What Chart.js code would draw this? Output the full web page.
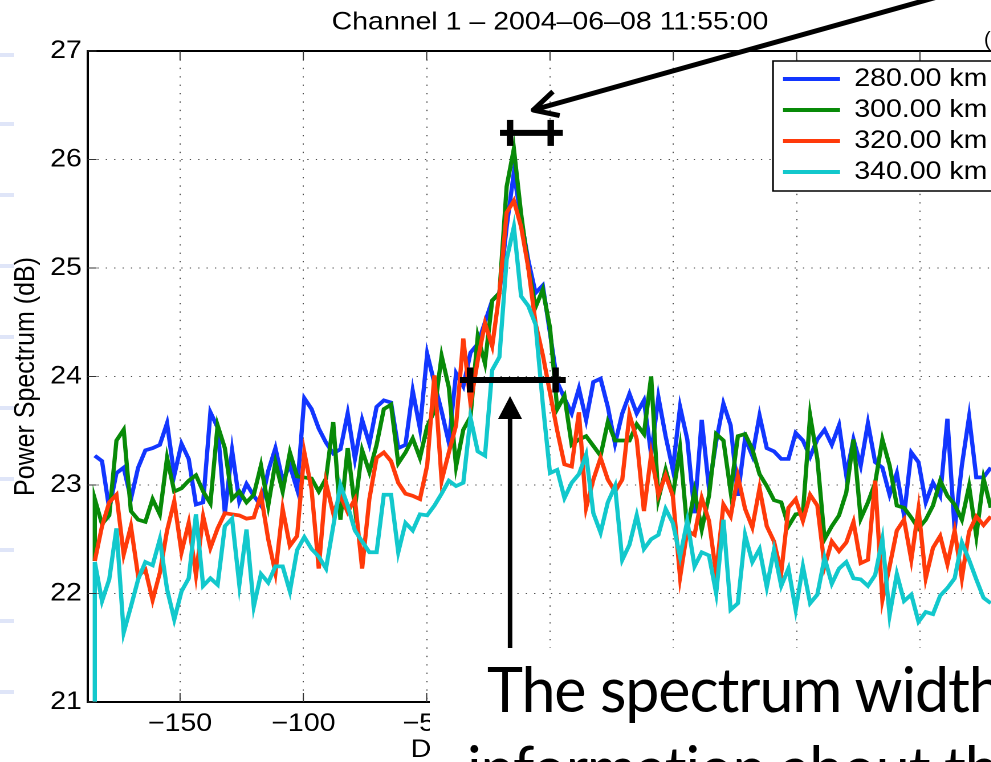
<!DOCTYPE html>
<html>
<head>
<meta charset="utf-8">
<script src="https://cdn.jsdelivr.net/npm/chart.js@4.4.1/dist/chart.umd.min.js"></script>
<style>
  html, body { margin: 0; padding: 0; background: #fff; overflow: hidden; width: 991px; height: 762px; }
  /* the figure sits on the slide stretched sideways, so the chart is drawn narrow and widened */
  #stage { position: absolute; left: 0; top: 0; width: 957px; height: 780px; transform: scaleX(1.14); transform-origin: 0 0; }
  #slideText { position: absolute; left: 430px; top: 648px; width: 700px; height: 140px; background: #fff;
               font-family: Lato, "Open Sans", sans-serif; font-size: 61px; line-height: 61px; letter-spacing: -1.1px;
               color: #000; white-space: nowrap; }
  #slideText div { position: absolute; }
  #corner { position: absolute; left: 984px; top: 28px; font: 20px "Liberation Sans", Arial, sans-serif; color: #000; }
  .bullet { position: absolute; left: 0; width: 14px; height: 4px; background: #dfe5f8; }
</style>
</head>
<body>
<div id="stage"><canvas id="chart"></canvas></div>
<div id="corner">(</div>
<div id="slideText">
  <div style="left:57px; top:10px;">The spectrum width</div>
  <div style="left:37px; top:89px;">information about the</div>
</div>
<script>
// power spectrum (dB) per doppler bin, bins 1..125 of 128 (the last ones run off the slide)
const km280 = [23.27,23.22,22.78,23.11,23.16,22.87,23.16,23.32,23.34,23.37,23.57,23.09,23.38,23.24,22.82,22.84,23.67,23.53,22.74,23.32,22.85,23.01,22.90,22.81,23.13,
  23.34,23.04,23.18,22.96,23.80,23.70,23.52,23.39,23.29,23.33,23.66,23.24,23.60,23.38,23.72,23.78,23.76,23.34,23.37,23.87,23.52,24.21,23.94,23.68,23.39,
  24.03,23.91,24.22,24.30,24.50,24.70,24.77,25.38,25.88,25.45,25.07,24.77,24.84,24.40,23.95,23.80,23.66,23.89,23.60,23.95,23.98,23.72,23.38,23.66,23.84,
  23.66,23.78,23.28,23.81,23.45,23.14,23.72,23.42,22.74,23.60,22.97,23.40,23.75,23.55,22.90,23.43,23.27,23.64,23.34,23.31,23.24,23.24,23.48,23.41,23.26,
  23.42,23.51,23.37,23.55,23.09,23.42,23.18,23.57,23.21,23.16,22.91,23.11,22.72,23.30,23.21,22.84,23.02,22.90,23.61,22.59,23.18,23.63,23.07,23.07,23.16];
const km300 = [22.87,22.64,22.72,23.41,23.51,22.76,22.68,22.66,22.87,22.73,23.25,22.94,22.97,23.04,23.09,22.94,22.83,23.55,23.34,22.87,22.94,22.84,22.91,23.18,22.81,
  23.21,22.94,23.30,23.08,23.07,23.06,22.94,23.06,23.58,22.68,23.34,22.79,23.32,23.12,23.37,23.70,23.74,23.20,23.30,23.43,23.25,23.54,23.68,24.19,23.90,
  23.17,23.51,23.63,24.37,24.12,24.70,24.77,25.75,26.10,25.50,25.00,24.64,24.80,24.45,23.70,23.82,23.37,23.42,23.45,23.36,23.27,23.58,23.41,23.41,23.41,
  23.56,23.47,24.00,22.87,23.14,22.90,23.34,22.59,22.94,22.59,22.90,23.47,23.41,22.94,23.45,23.47,23.33,23.10,22.99,22.86,22.84,22.62,22.73,22.74,23.64,
  23.24,22.50,22.62,22.72,22.93,23.42,22.69,22.84,23.02,23.42,23.18,22.81,22.79,22.70,22.60,22.68,22.81,23.04,22.90,22.82,22.68,22.99,22.53,23.06,22.79];
const km320 = [22.30,22.62,22.84,22.91,22.36,22.62,22.16,22.22,21.94,22.19,22.58,22.85,22.38,22.65,22.17,22.71,22.42,22.60,22.74,22.73,22.72,22.69,22.70,22.91,22.50,
  22.19,22.78,22.44,22.53,23.30,22.96,22.23,23.02,22.74,22.90,22.75,22.87,22.23,22.87,23.25,23.30,23.22,23.02,22.92,22.90,22.87,23.18,24.01,23.04,23.30,
  23.55,24.35,23.75,24.15,24.49,24.28,24.77,25.51,25.62,25.38,25.00,24.49,24.20,23.85,23.50,23.19,23.17,23.67,22.79,23.05,23.25,23.05,22.94,23.05,23.65,
  23.42,22.76,23.28,22.91,23.09,22.90,22.15,22.58,22.54,22.88,22.67,22.18,22.82,22.71,23.08,22.78,22.61,22.97,22.62,22.48,22.19,22.79,22.87,22.67,22.91,
  22.81,22.25,22.48,22.39,22.47,22.66,22.28,22.31,23.04,21.94,22.25,22.58,22.68,22.31,22.78,22.14,22.42,22.53,22.27,22.58,22.14,22.57,22.71,22.63,22.71];
const km340 = [22.29,21.93,22.13,22.60,21.64,21.88,22.13,22.29,22.26,22.50,22.04,21.76,22.02,22.14,22.73,22.07,22.14,22.08,22.62,22.69,22.08,22.59,21.88,22.18,22.10,
  22.25,22.25,22.02,22.40,22.52,22.41,22.34,22.23,22.62,23.00,22.81,22.58,22.48,22.38,22.38,22.91,22.91,22.38,22.65,22.58,22.73,22.72,22.81,22.92,23.04,
  22.99,23.02,23.62,23.31,23.27,24.06,24.18,25.08,25.38,24.74,24.65,24.48,23.75,23.11,23.14,22.88,23.02,23.10,23.28,22.74,22.56,22.84,22.99,22.31,22.45,
  22.72,22.41,22.50,22.54,22.78,22.65,22.34,22.67,22.25,22.38,22.35,22.00,22.68,21.85,21.91,22.54,22.29,22.41,22.06,22.40,22.07,22.23,21.85,22.25,21.91,
  21.99,22.33,22.09,22.23,22.29,22.14,22.13,22.07,22.17,22.50,21.80,22.18,21.93,21.99,21.74,21.83,21.81,21.98,22.05,22.14,22.47,22.31,22.13,21.96,21.91];
// each trace starts with a drop at the first bin (340 km falls off the axis)
const firstBinDrop = [23.27, 22.30, 22.30, 20.0];

const rangeLabels = ['280.00 km', '300.00 km', '320.00 km', '340.00 km'];
const rangeColors = ['#1236ff', '#088a08', '#ff3a0a', '#12c8cc'];
const xTickValues = [-150, -100, -50, 0, 50, 100, 150];

const binStart = -187.5, binStep = 375 / 128;
const dopplerBins = km280.map((_, i) => binStart + (i + 1) * binStep);

// annotations the slide draws over the figure (data units)
const peakWidthBar = { from: -20.3, to: 5.2, ticks: [-16.2, 0.3], at: 26.245 };
const baseWidthBar = { from: -36.5, to: 6.4, ticks: [-32.4, 2.3], at: 23.968 };
const upArrow = { x: -16.2, from: 21.49, tip: 23.82 };
const calloutArrow = { fromX: 182.5, fromY: 27.66, toX: -6.8, toY: 26.456 };

// faint bullet marks of the slide along the left edge
const bulletRows = [55, 124, 195, 266, 337, 408, 479, 550, 621, 692];
bulletRows.forEach(y => {
  const d = document.createElement('div');
  d.className = 'bullet';
  d.style.top = (y - 2) + 'px';
  document.body.appendChild(d);
});

const S = 1.14;   // horizontal stretch of the slide
Chart.defaults.font.family = '"Liberation Sans", Arial, Helvetica, sans-serif';
Chart.defaults.font.size = 25;
Chart.defaults.color = '#000';

function toSeries(values, drop) {
  const pts = dopplerBins.map((x, i) => ({ x: x, y: values[i] }));
  pts.unshift({ x: dopplerBins[0], y: drop });
  return pts;
}

// a bar of thickness t between two points given in slide pixels (x already widened)
function thickLine(ctx, x1, y1, x2, y2, t) {
  const dx = x2 - x1, dy = y2 - y1, len = Math.hypot(dx, dy);
  const nx = -dy / len * t / 2, ny = dx / len * t / 2;
  ctx.beginPath();
  ctx.moveTo((x1 + nx) / S, y1 + ny);
  ctx.lineTo((x2 + nx) / S, y2 + ny);
  ctx.lineTo((x2 - nx) / S, y2 - ny);
  ctx.lineTo((x1 - nx) / S, y1 - ny);
  ctx.closePath();
  ctx.fill();
}
function dot(ctx, x, y, r) {
  ctx.beginPath();
  ctx.ellipse(x / S, y, r / S, r, 0, 0, Math.PI * 2);
  ctx.fill();
}

const slideOverlay = {
  id: 'slideOverlay',
  afterLayout(chart) {
    const lg = chart.legend;
    lg.left = 783 / S - 6;
    lg.top = 60.5;
    lg.width = 260;
    lg.height = 140;
    lg.right = lg.left + lg.width;
    lg.bottom = lg.top + lg.height;
  },
  afterDraw(chart) {
    const ctx = chart.ctx, a = chart.chartArea;
    const xs = chart.scales.x, ys = chart.scales.y;
    ctx.save();
    // top frame and inward ticks, matlab style
    ctx.fillStyle = '#000';
    ctx.fillRect(a.left, a.top - 1, a.right - a.left, 2);
    ctx.strokeStyle = '#333';
    ctx.lineWidth = 1;
    xTickValues.forEach(v => {
      const px = xs.getPixelForValue(v);
      ctx.beginPath();
      ctx.moveTo(px, a.bottom); ctx.lineTo(px, a.bottom - 9);
      ctx.moveTo(px, a.top); ctx.lineTo(px, a.top + 9);
      ctx.stroke();
    });
    ys.ticks.forEach(t => {
      const py = ys.getPixelForValue(t.value);
      ctx.beginPath();
      ctx.moveTo(a.left, py); ctx.lineTo(a.left + 9 / S, py);
      ctx.stroke();
    });

    // legend box with white fill, then legend again on top
    const bx = 773 / S, by = 61, bw = 260, bh = 130;
    ctx.fillStyle = '#fff';
    ctx.fillRect(bx, by, bw, bh);
    ctx.strokeStyle = '#000';
    ctx.lineWidth = 1.5;
    ctx.strokeRect(bx, by, bw, bh);
    ctx.restore();
    chart.legend.draw();

    ctx.save();
    ctx.fillStyle = '#000';
    const X = v => xs.getPixelForValue(v) * S;
    const Y = v => ys.getPixelForValue(v);

    [peakWidthBar, baseWidthBar].forEach((b, i) => {
      const y = Y(b.at), half = i === 0 ? 13 : 12.5;
      thickLine(ctx, X(b.from), y, X(b.to), y, 6);
      b.ticks.forEach(t => thickLine(ctx, X(t), y - half, X(t), y + half, 6.5));
    });

    // vertical arrow under the base bar
    const ax = X(upArrow.x), tipY = Y(upArrow.tip);
    thickLine(ctx, ax, Y(upArrow.from), ax, tipY + 18, 4.5);
    ctx.beginPath();
    ctx.moveTo(ax / S, tipY);
    ctx.lineTo((ax - 12) / S, tipY + 23);
    ctx.lineTo((ax + 12) / S, tipY + 23);
    ctx.closePath();
    ctx.fill();

    // callout arrow coming in from the top right
    const tx = X(calloutArrow.toX), ty = Y(calloutArrow.toY);
    const fx = X(calloutArrow.fromX), fy = Y(calloutArrow.fromY);
    thickLine(ctx, fx, fy, tx, ty, 5);
    const ang = Math.atan2(fy - ty, fx - tx);
    [-0.48, 0.48].forEach(d => {
      const ex = tx + Math.cos(ang + d) * 27, ey = ty + Math.sin(ang + d) * 27;
      thickLine(ctx, tx, ty, ex, ey, 5);
    });
    dot(ctx, tx, ty, 2.5);
    ctx.restore();
  }
};

const datasets = [km280, km300, km320, km340].map((vals, i) => ({
  label: rangeLabels[i],
  data: toSeries(vals, firstBinDrop[i]),
  borderColor: rangeColors[i],
  backgroundColor: rangeColors[i],
  borderWidth: 3.7,
  pointRadius: 0,
  pointBorderWidth: 4,
  pointStyle: 'line',
  tension: 0,
  fill: false,
  order: 4 - i
}));

new Chart(document.getElementById('chart'), {
  type: 'line',
  data: { datasets: datasets },
  plugins: [slideOverlay],
  options: {
    responsive: true,
    maintainAspectRatio: false,
    animation: false,
    devicePixelRatio: 2,
    events: [],
    layout: { padding: { left: 0, right: 68.9, top: 0, bottom: 0 } },
    plugins: {
      title: {
        display: true,
        fullSize: false,
        text: 'Channel 1 \u2013 2004\u201306\u201308 11:55:00',
        font: { size: 25, weight: 'normal' },
        color: '#000',
        padding: { top: 7.5, bottom: 13.5 }
      },
      legend: {
        position: 'chartArea',
        align: 'start',
        labels: {
          usePointStyle: true,
          pointStyle: 'line',
          pointStyleWidth: 50,
          padding: 6,
          color: '#000',
          font: { size: 25 },
          sort: (p, q) => p.datasetIndex - q.datasetIndex
        }
      },
      tooltip: { enabled: false }
    },
    scales: {
      x: {
        type: 'linear',
        min: -187.5,
        max: 187.5,
        afterBuildTicks: s => { s.ticks = xTickValues.map(v => ({ value: v })); },
        afterFit: s => { s.height = 78; },
        ticks: {
          padding: 7,
          maxRotation: 0,
          callback: v => v < 0 ? '\u2212' + Math.abs(v) : String(v)
        },
        grid: { color: 'rgba(0,0,0,0.7)', lineWidth: 1, drawTicks: false },
        border: { display: true, color: '#000', width: 2, dash: [1.3, 7.1] },
        title: { display: true, text: 'Doppler Velocity (m/s)', font: { size: 25 }, padding: { top: 0, bottom: 14.7 } }
      },
      y: {
        min: 21,
        max: 27,
        afterFit: s => { s.width = 76.8; },
        ticks: { stepSize: 1, padding: 5 },
        grid: { color: 'rgba(0,0,0,0.7)', lineWidth: 1, drawTicks: false },
        border: { display: true, color: '#000', width: 2, dash: [1.3 / S, 7.1 / S] },
        title: { display: true, text: 'Power Spectrum (dB)', font: { size: 25 }, padding: { top: 8, bottom: 0 } }
      }
    }
  }
});
</script>
</body>
</html>
